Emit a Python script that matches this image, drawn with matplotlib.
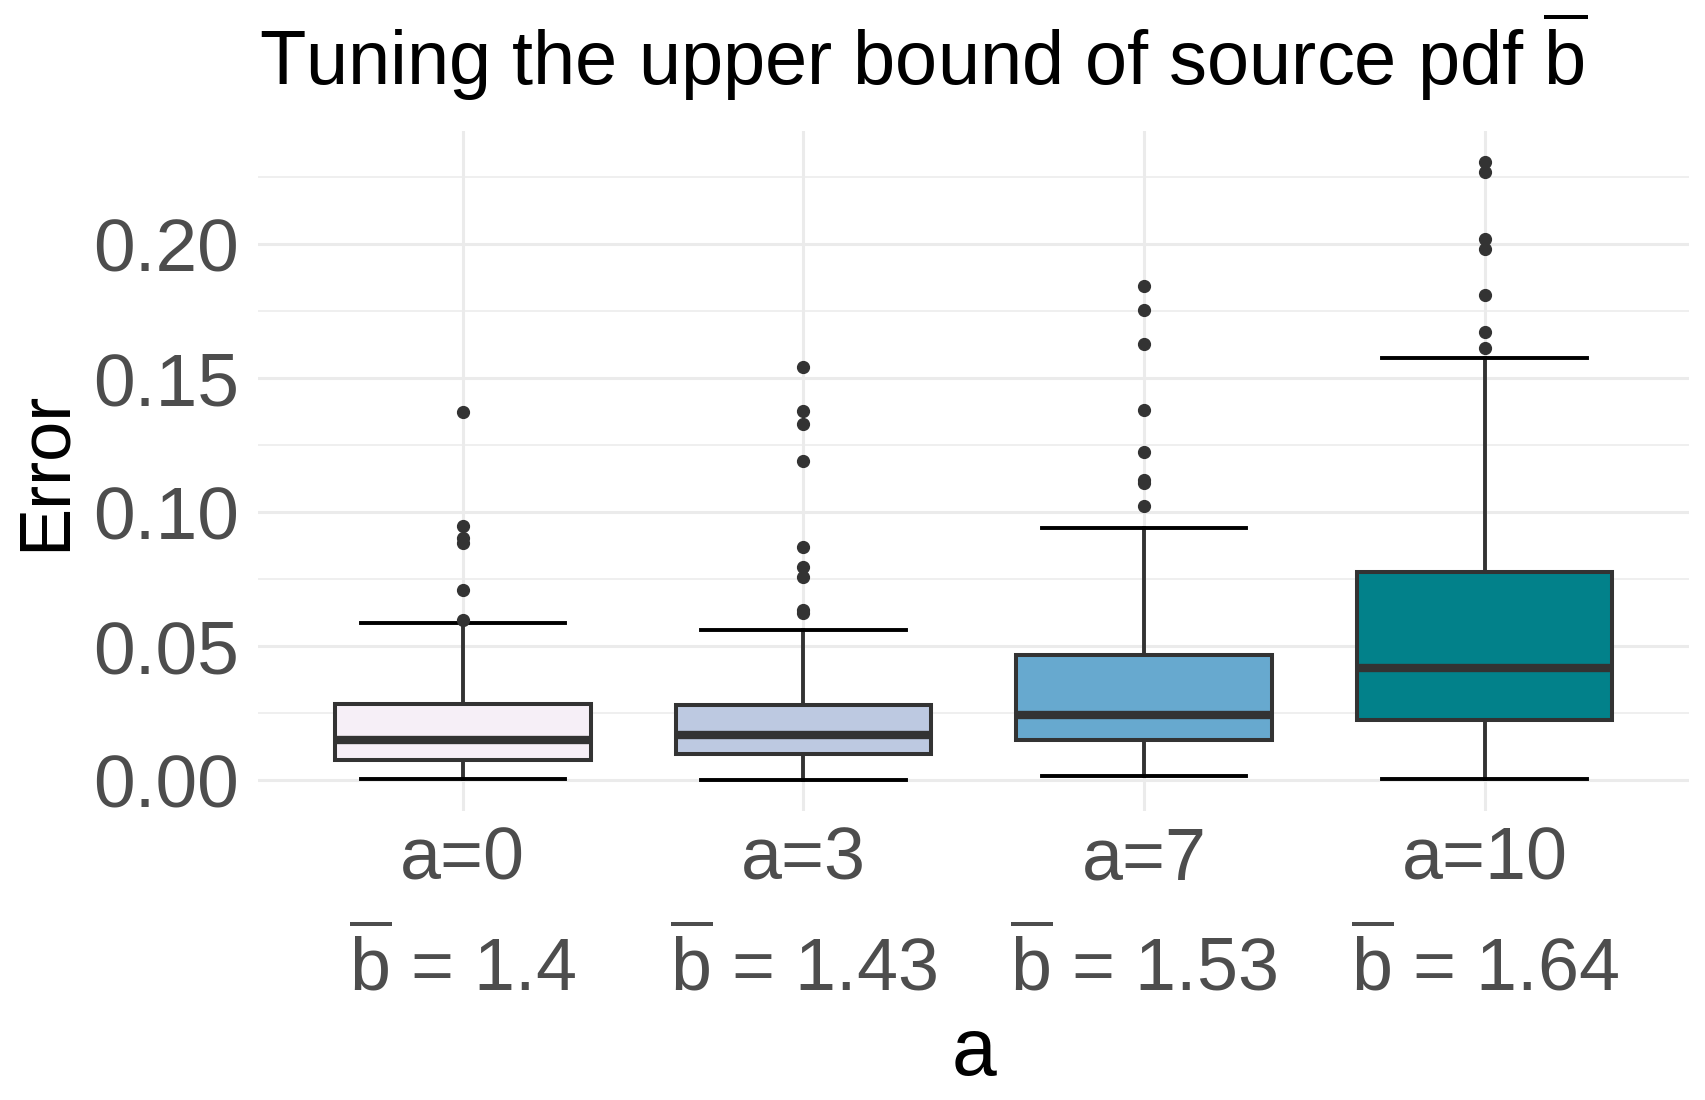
import matplotlib
matplotlib.use("Agg")
import matplotlib.pyplot as plt
from matplotlib.ticker import MultipleLocator, FormatStrFormatter

# datos
categorias = ["a=0", "a=3", "a=7", "a=10"]
b_barra = ["1.4", "1.43", "1.53", "1.64"]
colores = ["#F6EFF7", "#BDC9E1", "#67A9CF", "#02818A"]

q1 = [0.0077, 0.0097, 0.0152, 0.0227]
mediana = [0.0150, 0.0170, 0.0243, 0.0419]
q3 = [0.0286, 0.0280, 0.0468, 0.0777]
bigote_inf = [0.0005, 0.0000, 0.0018, 0.0006]
bigote_sup = [0.0586, 0.0560, 0.0940, 0.1574]
atipicos = [
    [0.1373, 0.0949, 0.0903, 0.0884, 0.0709, 0.0598],
    [0.1542, 0.1379, 0.1331, 0.1193, 0.0872, 0.0795, 0.0759, 0.0637, 0.0625],
    [0.1844, 0.1754, 0.1627, 0.1383, 0.1224, 0.1121, 0.1109, 0.1024],
    [0.2308, 0.2271, 0.2018, 0.1981, 0.1810, 0.1671, 0.1614],
]

plt.rcParams['font.family'] = ['Liberation Sans', 'DejaVu Sans']
plt.rcParams['mathtext.fontset'] = 'custom'
plt.rcParams['mathtext.rm'] = 'Liberation Sans'
plt.rcParams['mathtext.it'] = 'Liberation Sans'

fig = plt.figure(figsize=(17.06, 11), dpi=100)
ax = fig.add_axes([0.1515, 0.2625, 0.8385, 0.6185])

posiciones = list(range(1, len(categorias) + 1))
stats = []
for i in range(len(categorias)):
    stats.append(dict(label=categorias[i], q1=q1[i], med=mediana[i], q3=q3[i],
                      whislo=bigote_inf[i], whishi=bigote_sup[i], fliers=atipicos[i]))

bp = ax.bxp(stats, positions=posiciones, widths=0.75, capwidths=0.6,
            patch_artist=True,
            boxprops=dict(edgecolor='#333333', linewidth=2.9),
            medianprops=dict(color='#333333', linewidth=6),
            whiskerprops=dict(color='#333333', linewidth=2.8),
            capprops=dict(color='black', linewidth=2.8),
            flierprops=dict(marker='o', markerfacecolor='#333333',
                            markeredgecolor='#333333', markersize=8.5))
for caja, c in zip(bp['boxes'], colores):
    caja.set_facecolor(c)

ax.set_xlim(0.4, 4.6)
ax.set_ylim(-0.0115, 0.2423)
ax.yaxis.set_major_locator(MultipleLocator(0.05))
ax.yaxis.set_minor_locator(MultipleLocator(0.025))
ax.yaxis.set_major_formatter(FormatStrFormatter('%.2f'))
ax.set_axisbelow(True)
ax.grid(which='major', color='#EBEBEB', linewidth=2.2)
ax.grid(axis='y', which='minor', color='#EBEBEB', linewidth=1.1)
for s in ax.spines.values():
    s.set_visible(False)
ax.tick_params(which='both', length=0)
ax.tick_params(axis='y', labelsize=54, labelcolor='#4D4D4D', pad=14)
ax.tick_params(axis='x', labelsize=53, labelcolor='#4D4D4D', pad=10)

ax.set_xticks(posiciones)
ax.set_xticklabels([f"{c}\n" + r"$\overline{\mathrm{b}}$" + f" = {v}"
                    for c, v in zip(categorias, b_barra)], linespacing=1.55)

ax.set_ylabel("Error", fontsize=52, labelpad=10)
ax.set_xlabel("a", fontsize=58, labelpad=8)

fig.text(0.152, 1 - 85 / 1100, r"Tuning the upper bound of source pdf $\overline{\mathrm{b}}$",
         fontsize=54.5, ha='left', va='baseline')

fig.savefig("out.png", dpi=100)
